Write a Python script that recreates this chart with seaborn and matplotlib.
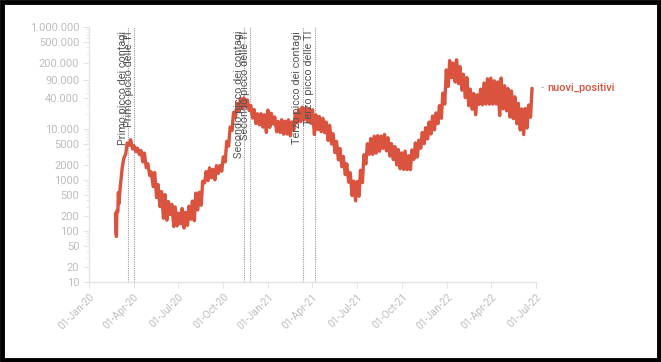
import numpy as np
import pandas as pd
import matplotlib
matplotlib.use("Agg")
import matplotlib.pyplot as plt
import matplotlib.dates as mdates
from matplotlib.ticker import FixedLocator, FuncFormatter, LogLocator, NullFormatter
from matplotlib.patches import Rectangle
import seaborn as sns

# ---------------- data ----------------
# first daily values (24 Feb - 1 Mar 2020)
early_start = "2020-02-24"
early_values = [221, 93, 78, 250, 238, 240, 566]

# weekly grid from Monday 2 Mar 2020: weekly low (Mon) and weekly high (~Thu)
grid_start = "2020-03-02"
lows_2020 = [342, 1797, 3233, 4789, 4050, 3599, 3153, 2256, 1739, 1221, 744, 451, 300,
             178, 163, 210, 122, 126, 138, 114, 129, 170, 159, 259, 320, 878, 978,
             1108, 1008, 1350, 1494, 2257, 4619, 9338, 17012, 22253, 25271, 27354,
             22930, 16377, 12756, 12030, 10872, 8585]
highs_2020 = [769, 2651, 5322, 6153, 4668, 4204, 3786, 3370, 2086, 1444, 1402, 813, 593,
              518, 379, 333, 296, 223, 276, 233, 306, 386, 552, 574, 947, 1462, 1733,
              1616, 1907, 1912, 2844, 5724, 10925, 21273, 31758, 39811, 40902, 37242,
              29003, 24099, 19903, 19974, 19037, 23477]
lows_2021 = [10800, 12532, 8824, 8562, 7925, 7970, 7351, 9630, 13114, 13902, 15267,
             13846, 12916, 7767, 9789, 8864, 8444, 5948, 5080, 3455, 2490, 1820, 1273,
             907, 495, 389, 480, 888, 2072, 3190, 3189, 3360, 3662, 4168, 3727, 2941,
             2516, 1970, 1661, 1612, 1597, 1597, 2535, 2818, 4197, 5144, 6404, 7975,
             9620, 12712, 16213, 30810]
highs_2021 = [20331, 17246, 14078, 15204, 14218, 15146, 13762, 20499, 24036, 26824, 25735,
              24935, 23904, 18938, 17567, 16232, 13708, 11807, 8085, 5741, 4147, 2897,
              2079, 1390, 951, 932, 1553, 3127, 5143, 6513, 7230, 7409, 7260, 7826, 6761,
              5193, 4544, 3970, 3405, 3677, 3000, 3882, 5335, 6032, 8544, 10645, 13686,
              17959, 20677, 28632, 50599, 144243]
lows_2022 = [68052, 101762, 83403, 77696, 57715, 41247, 28630, 24408, 19030, 30401, 29791,
             30825, 30710, 30630, 30927, 18380, 24878, 22684, 17161, 15993, 12712, 9602,
             7786, 10467, 17034]
highs_2022 = [219441, 196224, 228179, 167206, 118994, 101932, 60697, 49695, 46694, 60494,
              79895, 96365, 99457, 88173, 83643, 99848, 70520, 62037, 55638, 42792, 31900,
              24704, 25242, 29575, 62704]

event_dates = ["2020-03-21", "2020-04-02", "2020-11-13", "2020-11-25", "2021-03-12", "2021-04-06"]
event_labels = ["Primo picco dei contagi", "Primo picco delle TI",
                "Secondo picco dei contagi", "Secondo picco delle TI",
                "Terzo picco dei contagi", "Terzo picco delle TI"]

y_ticks = [10, 20, 50, 100, 200, 500, 1000, 2000, 5000, 10000, 40000, 90000,
           200000, 500000, 1000000]
x_ticks = ["2020-01-01", "2020-04-01", "2020-07-01", "2020-10-01", "2021-01-01",
           "2021-04-01", "2021-07-01", "2021-10-01", "2022-01-01", "2022-04-01",
           "2022-07-01"]
series_name = "nuovi_positivi"

# ---------------- build table ----------------
lows = lows_2020 + lows_2021 + lows_2022
highs = highs_2020 + highs_2021 + highs_2022
mondays = pd.date_range(grid_start, periods=len(lows), freq="7D")
thursdays = mondays + pd.Timedelta(days=3)
early_days = pd.date_range(early_start, periods=len(early_values), freq="D")

df = pd.concat([
    pd.DataFrame({"data": early_days, series_name: early_values}),
    pd.DataFrame({"data": mondays, series_name: lows}),
    pd.DataFrame({"data": thursdays, series_name: highs}),
]).sort_values("data").reset_index(drop=True)

# ---------------- style ----------------
sns.set_theme(style="white")
plt.rcParams["font.family"] = ["Roboto", "DejaVu Sans"]

RED = "#d9533f"
TICK = "#bdbdbd"
AXIS = "#e4e4e4"


def fmt_y(v, pos):
    v = int(round(v))
    if v >= 10000:
        return f"{v:,}".replace(",", ".")
    return str(v)


fig = plt.figure(figsize=(6.61, 3.62), dpi=100)
ax = fig.add_axes([0.1346, 0.221, 0.6762, 0.7044])

sns.lineplot(data=df, x="data", y=series_name, color=RED, linewidth=2.4, ax=ax,
             legend=False)

ax.set_yscale("log")
ax.set_ylim(10, 1_000_000)
ax.set_xlim(pd.Timestamp("2020-01-01"), pd.Timestamp("2022-07-01"))

ax.yaxis.set_major_locator(FixedLocator(y_ticks))
ax.yaxis.set_major_formatter(FuncFormatter(fmt_y))
ax.yaxis.set_minor_locator(LogLocator(base=10, subs=np.arange(2, 10), numticks=20))
ax.yaxis.set_minor_formatter(NullFormatter())

xt = [pd.Timestamp(d) for d in x_ticks]
ax.set_xticks(xt)
ax.xaxis.set_major_formatter(mdates.DateFormatter("%d-%b-%y"))
ax.set_xlabel("")
ax.set_ylabel("")

for lab in ax.get_xticklabels():
    lab.set_rotation(45)
    lab.set_ha("right")
    lab.set_rotation_mode("anchor")

ax.tick_params(axis="y", which="major", colors=AXIS, labelcolor=TICK, labelsize=8,
               length=4, width=0.8, pad=3, left=True)
ax.tick_params(axis="y", which="minor", colors=AXIS, length=2, width=0.6, left=True)
ax.tick_params(axis="x", which="major", colors=AXIS, labelcolor=TICK, labelsize=7.5,
               length=4, width=0.8, pad=3, bottom=True)

for s in ["top", "right"]:
    ax.spines[s].set_visible(False)
for s in ["left", "bottom"]:
    ax.spines[s].set_color(AXIS)
    ax.spines[s].set_linewidth(1.0)

# event lines and labels
for d, lab in zip(event_dates, event_labels):
    t = pd.Timestamp(d)
    ax.axvline(t, color="#9a9a9a", linestyle=(0, (1, 1)), linewidth=0.8, zorder=1)
    ax.text(t - pd.Timedelta(days=1), 0.985, lab, transform=ax.get_xaxis_transform(),
            rotation=90, ha="right", va="top", fontsize=7.8, color="#555555", zorder=3)

# direct series label
last = df.iloc[-1]
ax.annotate("-", xy=(last["data"], last[series_name]), xytext=(6, 0),
            textcoords="offset points", color="#aaaaaa", fontsize=8, va="center",
            annotation_clip=False)
ax.annotate(series_name, xy=(last["data"], last[series_name]), xytext=(11, 0),
            textcoords="offset points", color=RED, fontsize=8, fontweight="medium",
            va="center", annotation_clip=False)

# outer black frame
fig.patches.append(Rectangle((0.003, 0.005), 0.994, 0.99, transform=fig.transFigure,
                             fill=False, edgecolor="black", linewidth=3.5))

fig.savefig("out.png", dpi=100, facecolor="white")
